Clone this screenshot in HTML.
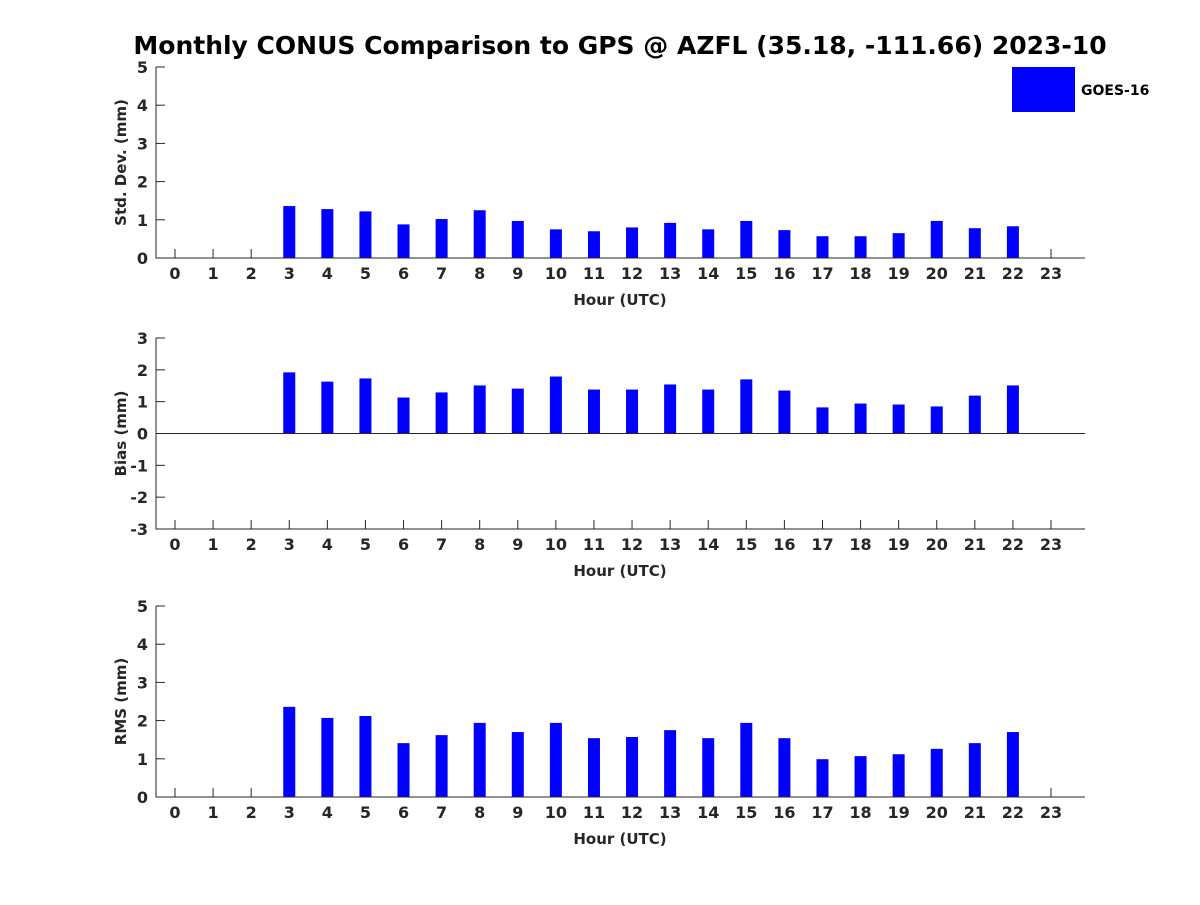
<!DOCTYPE html>
<html><head><meta charset="utf-8"><style>
body{margin:0;background:#fff;}
svg text{font-family:"DejaVu Sans","Liberation Sans",sans-serif;font-weight:bold;fill:#262626;}
</style></head><body>
<svg id="c" width="1200" height="900" xmlns="http://www.w3.org/2000/svg">
<rect width="1200" height="900" fill="#fff"/>
<text x="620" y="54" font-size="25" text-anchor="middle" style="fill:#000">Monthly CONUS Comparison to GPS @ AZFL (35.18, -111.66) 2023-10</text>
<rect x="1012" y="67" width="63" height="45" fill="#0000ff"/>
<text x="1081" y="95" font-size="14" style="fill:#000">GOES-16</text>
</svg>
<script>
const hours = [0,1,2,3,4,5,6,7,8,9,10,11,12,13,14,15,16,17,18,19,20,21,22,23];
const stdVals = [null,null,null,1.36,1.28,1.22,0.88,1.02,1.25,0.97,0.75,0.70,0.80,0.92,0.75,0.97,0.73,0.57,0.57,0.65,0.97,0.78,0.83,null];
const biasVals = [null,null,null,1.92,1.63,1.73,1.13,1.29,1.51,1.41,1.79,1.38,1.38,1.54,1.38,1.70,1.35,0.82,0.94,0.91,0.85,1.19,1.51,null];
const rmsVals = [null,null,null,2.36,2.07,2.12,1.41,1.62,1.94,1.70,1.94,1.54,1.57,1.75,1.54,1.94,1.54,0.99,1.07,1.12,1.26,1.41,1.70,null];
const stdTicks = [0,1,2,3,4,5];
const biasTicks = [-3,-2,-1,0,1,2,3];
const rmsTicks = [0,1,2,3,4,5];
const svg = document.getElementById('c');
const NS = 'http://www.w3.org/2000/svg';
function mk(tag, attrs, parent){const e=document.createElementNS(NS,tag);for(const k in attrs)e.setAttribute(k,attrs[k]);(parent||svg).appendChild(e);return e;}
const L=156,R=1085;
const xs = h => 175 + h*(1051-175)/23;
function panel(key, top, bottom, ymin, ymax, ticks, vals, ylabel){
  const g = mk('g',{});
  
  
  const ys = v => bottom - (v-ymin)/(ymax-ymin)*(bottom-top);
  hours.forEach(h=>{
    mk('line',{x1:xs(h),x2:xs(h),y1:bottom,y2:bottom-9,stroke:'#262626'},g);
    const t=mk('text',{x:xs(h),y:bottom+21,'font-size':16,'text-anchor':'middle'},g);
    t.textContent=h;
    
    
  });
  ticks.forEach(v=>{
    mk('line',{x1:L,x2:L+9,y1:ys(v),y2:ys(v),stroke:'#262626'},g);
    const t=mk('text',{x:L-8,y:ys(v)+6,'font-size':16,'text-anchor':'end'},g);
    t.textContent=v;
    
    
  });
  vals.forEach((v,i)=>{
    if(v==null) return;
    const y0=ys(0), y1=ys(v);
    const b = mk('rect',{x:xs(hours[i])-6,y:Math.min(y0,y1),width:12,height:Math.abs(y1-y0),fill:'#0000ff'},g);
    
    
  });
  const ax = mk('path',{d:`M${L} ${top}V${bottom}H${R}`,stroke:'#262626','stroke-width':1,fill:'none'},g);
  
  
  if(ymin<0){const z=mk('line',{x1:L,x2:R,y1:ys(0),y2:ys(0),stroke:'#262626'},g);
    
    }
  const xl=mk('text',{x:620,y:bottom+47,'font-size':15,'text-anchor':'middle'},g);
  xl.textContent='Hour (UTC)';
  
  
  const cy=(top+bottom)/2;
  const yl=mk('text',{x:0,y:0,'font-size':15,'text-anchor':'middle',transform:`translate(126,${cy}) rotate(-90)`},g);
  yl.textContent=ylabel;
  
  
}
panel('std',67,258,0,5,stdTicks,stdVals,'Std. Dev. (mm)');
panel('bias',338,529,-3,3,biasTicks,biasVals,'Bias (mm)');
panel('rms',606,797,0,5,rmsTicks,rmsVals,'RMS (mm)');
</script>
</body></html>
